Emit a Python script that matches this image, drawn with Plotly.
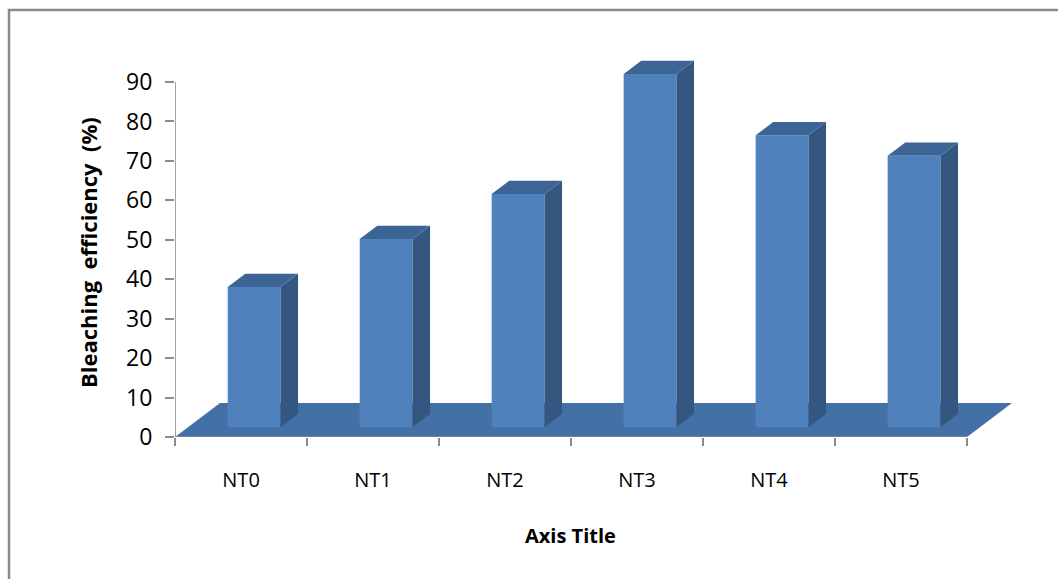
import plotly.graph_objects as go

# ---- data -------------------------------------------------------------
categories = ["NT0", "NT1", "NT2", "NT3", "NT4", "NT5"]
efficiency = [35.5, 47.7, 59.1, 89.5, 74.0, 68.8]
y_ticks = [0, 10, 20, 30, 40, 50, 60, 70, 80, 90]

# ---- page geometry ----------------------------------------------------
W, H = 1058, 579
ML, MR, MT, MB = 175, 28, 30, 142
PLOT_W = W - ML - MR
PLOT_H = H - MT - MB
PX_PER_CAT = 132.0
PX_PER_UNIT = 355.0 / 90.0

X0 = -0.5
X1 = X0 + PLOT_W / PX_PER_CAT
Y1 = PLOT_H / PX_PER_UNIT

# oblique 3-D look: depth vector of the floor, in data units
DEPTH_X = 45.0 / PX_PER_CAT
DEPTH_Y = 34.0 / PX_PER_UNIT
FRONT = 0.29     # depth fraction of the columns' front face
BACK = 0.68      # depth fraction of the columns' back face
BAR_W = 0.40

FRONT_C = "#4F81BD"
SIDE_C = "#345780"
TOP_C = "#3C6596"
FLOOR_C = "#4470A8"
AXIS_C = "#8C8C8C"
FONT = "'Open Sans', Lato, sans-serif"


def paper_x(px):
    return (px - ML) / PLOT_W


def paper_y(py):
    return (H - MB - py) / PLOT_H


n = len(categories)
pos = list(range(n))
fig = go.Figure()

# front faces of the columns
fig.add_trace(go.Bar(
    x=pos, y=efficiency,
    base=[FRONT * DEPTH_Y] * n,
    width=BAR_W,
    offset=-BAR_W / 2 + FRONT * DEPTH_X,
    marker=dict(color=FRONT_C, line=dict(width=0)),
    hoverinfo="skip", showlegend=False,
))

dx = (BACK - FRONT) * DEPTH_X
dy = (BACK - FRONT) * DEPTH_Y
for i, v in zip(pos, efficiency):
    xl = i - BAR_W / 2 + FRONT * DEPTH_X
    xr = xl + BAR_W
    b0 = FRONT * DEPTH_Y
    # right side face
    fig.add_trace(go.Scatter(
        x=[xr, xr, xr + dx, xr + dx, xr],
        y=[b0, b0 + v, b0 + dy + v, b0 + dy, b0],
        mode="lines", fill="toself", fillcolor=SIDE_C,
        line=dict(width=0, color=SIDE_C),
        hoverinfo="skip", showlegend=False,
    ))
    # top face
    fig.add_trace(go.Scatter(
        x=[xl, xl + dx, xr + dx, xr, xl],
        y=[b0 + v, b0 + dy + v, b0 + dy + v, b0 + v, b0 + v],
        mode="lines", fill="toself", fillcolor=TOP_C,
        line=dict(width=0, color=TOP_C),
        hoverinfo="skip", showlegend=False,
    ))

x_lo, x_hi = -0.5, n - 0.5
floor_path = (f"M {x_lo},0 L {x_hi},0 L {x_hi + DEPTH_X},{DEPTH_Y} "
              f"L {x_lo + DEPTH_X},{DEPTH_Y} Z")

shapes = [
    dict(type="path", path=floor_path, xref="x", yref="y",
         fillcolor=FLOOR_C, line=dict(width=0), layer="below"),
    # category axis line
    dict(type="line", xref="x", yref="y", x0=x_lo, x1=x_hi, y0=0, y1=0,
         line=dict(color=AXIS_C, width=1.5), layer="below"),
    # value axis line
    dict(type="line", xref="x", yref="y", x0=x_lo, x1=x_lo, y0=0,
         y1=y_ticks[-1], line=dict(color=AXIS_C, width=1.5), layer="above"),
    # chart border
    dict(type="rect", xref="paper", yref="paper",
         x0=paper_x(9), x1=paper_x(W + 20), y0=paper_y(H + 20), y1=paper_y(10),
         line=dict(color="#8A8A8A", width=2.5), fillcolor="rgba(0,0,0,0)"),
]

NB = "\u00a0"
annotations = [
    dict(text="<b>Axis Title</b>", xref="paper", yref="paper",
         x=paper_x(570), y=paper_y(535), showarrow=False,
         font=dict(family=FONT, size=20, color="black"),
         xanchor="center", yanchor="middle"),
    dict(text=f"<b>Bleaching{NB} efficiency{NB} (%)</b>",
         xref="paper", yref="paper",
         x=paper_x(88), y=paper_y(253), showarrow=False, textangle=-90,
         font=dict(family=FONT, size=22, color="black"),
         xanchor="center", yanchor="middle"),
]

fig.update_layout(
    width=W, height=H,
    margin=dict(l=ML, r=MR, t=MT, b=MB, pad=0),
    paper_bgcolor="white", plot_bgcolor="white",
    shapes=shapes, annotations=annotations,
    showlegend=False,
    xaxis=dict(
        range=[X0 - 0.0005, X1], showgrid=False, zeroline=False, showline=False,
        tickmode="array", tickvals=pos, ticktext=categories,
        ticks="", tickfont=dict(family=FONT, size=20, color="black"),
        ticklabelstandoff=29,
        minor=dict(tickmode="array", tickvals=[k - 0.5 for k in range(n + 1)],
                   ticks="outside", ticklen=8, tickwidth=1.5, tickcolor=AXIS_C,
                   showgrid=False),
        fixedrange=True,
    ),
    yaxis=dict(
        range=[0, Y1], showgrid=False, zeroline=False, showline=False,
        tickmode="array", tickvals=y_ticks,
        ticks="outside", ticklen=9, tickwidth=1.5, tickcolor=AXIS_C,
        tickfont=dict(family=FONT, size=23, color="black"),
        ticklabelstandoff=8,
        fixedrange=True,
    ),
)

fig.write_html("out.html", config={"displayModeBar": False})
